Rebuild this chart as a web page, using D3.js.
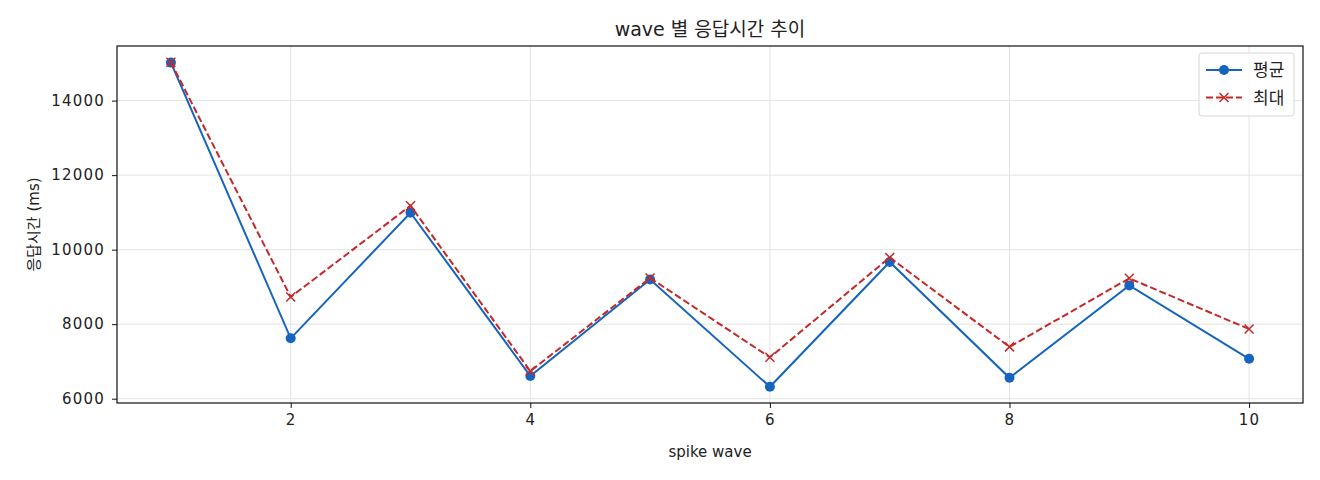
<!DOCTYPE html>
<html>
<head>
<meta charset="utf-8">
<script src="https://cdn.jsdelivr.net/npm/d3@7"></script>
<style>
  body { margin: 0; background: #fff; }
  text { font-family: "DejaVu Sans", "Noto Sans CJK KR", sans-serif; fill: #222; }
</style>
</head>
<body>
<div id="chart"></div>
<script>
// wave numbers and response times
var waves = [1, 2, 3, 4, 5, 6, 7, 8, 9, 10];
var avgMs = [15020, 7620, 10990, 6610, 9200, 6320, 9670, 6560, 9040, 7070];
var maxMs = [15030, 8730, 11180, 6740, 9240, 7110, 9790, 7390, 9230, 7870];
var xTicks = [2, 4, 6, 8, 10];
var yTicks = [6000, 8000, 10000, 12000, 14000];
var seriesNames = ["평균", "최대"];

var svgWidth = 1320, svgHeight = 480;
var margin = { top: 46, right: 17, bottom: 77, left: 117 };
var chartWidth = svgWidth - margin.left - margin.right;
var chartHeight = svgHeight - margin.top - margin.bottom;

var blue = "#1565c0", red = "#c62828";

var svg = d3.select("#chart").append("svg")
  .attr("width", svgWidth)
  .attr("height", svgHeight);

var chartGroup = svg.append("g")
  .attr("transform", `translate(${margin.left}, ${margin.top})`);

// matplotlib style 5% padding on both axes
var xPad = (d3.max(waves) - d3.min(waves)) * 0.05;
var xScale = d3.scaleLinear()
  .domain([d3.min(waves) - xPad, d3.max(waves) + xPad])
  .range([0, chartWidth]);

var yMin = d3.min(avgMs.concat(maxMs)), yMax = d3.max(avgMs.concat(maxMs));
var yPad = (yMax - yMin) * 0.05;
var yScale = d3.scaleLinear()
  .domain([yMin - yPad, yMax + yPad])
  .range([chartHeight, 0]);

// grid lines
chartGroup.append("g")
  .selectAll("line")
  .data(xTicks)
  .enter()
  .append("line")
  .attr("x1", d => xScale(d)).attr("x2", d => xScale(d))
  .attr("y1", 0).attr("y2", chartHeight)
  .attr("stroke", "#e3e3e3").attr("stroke-width", 1);
chartGroup.append("g")
  .selectAll("line")
  .data(yTicks)
  .enter()
  .append("line")
  .attr("x1", 0).attr("x2", chartWidth)
  .attr("y1", d => yScale(d)).attr("y2", d => yScale(d))
  .attr("stroke", "#e3e3e3").attr("stroke-width", 1);

// axes
var xAxis = d3.axisBottom(xScale).tickValues(xTicks).tickSize(5).tickPadding(6).tickFormat(d3.format("d"));
var yAxis = d3.axisLeft(yScale).tickValues(yTicks).tickSize(5).tickPadding(7).tickFormat(d3.format("d"));

var gx = chartGroup.append("g")
  .attr("transform", `translate(0,${chartHeight})`)
  .call(xAxis);
var gy = chartGroup.append("g")
  .call(yAxis);

[gx, gy].forEach(function (g) {
  g.select(".domain").remove();
  g.selectAll(".tick line").attr("stroke", "#111").attr("stroke-width", 1);
  g.selectAll(".tick text").style("font-size", "15px").style("fill", "#222").style("letter-spacing", "1.2px");
});

// lines
var avgData = waves.map((w, i) => ({ x: w, y: avgMs[i] }));
var maxData = waves.map((w, i) => ({ x: w, y: maxMs[i] }));

var line = d3.line().x(d => xScale(d.x)).y(d => yScale(d.y));

chartGroup.append("path")
  .datum(avgData)
  .attr("d", line)
  .attr("fill", "none")
  .attr("stroke", blue)
  .attr("stroke-width", 2);

chartGroup.selectAll(".avgDot")
  .data(avgData)
  .enter()
  .append("circle")
  .attr("cx", d => xScale(d.x))
  .attr("cy", d => yScale(d.y))
  .attr("r", 5)
  .attr("fill", blue);

chartGroup.append("path")
  .datum(maxData)
  .attr("d", line)
  .attr("fill", "none")
  .attr("stroke", red)
  .attr("stroke-width", 2)
  .attr("stroke-dasharray", "7,3");

var xMark = "M-4.5,-4.5L4.5,4.5M-4.5,4.5L4.5,-4.5";
chartGroup.selectAll(".maxMark")
  .data(maxData)
  .enter()
  .append("path")
  .attr("transform", d => `translate(${xScale(d.x)},${yScale(d.y)})`)
  .attr("d", xMark)
  .attr("stroke", red)
  .attr("stroke-width", 1.5)
  .attr("fill", "none");

// frame
chartGroup.append("rect")
  .attr("width", chartWidth).attr("height", chartHeight)
  .attr("fill", "none").attr("stroke", "#111").attr("stroke-width", 1.2);

// title and axis labels
svg.append("text")
  .attr("x", margin.left + chartWidth / 2)
  .attr("y", 36)
  .attr("text-anchor", "middle")
  .style("font-size", "19px")
  .text("wave 별 응답시간 추이");

svg.append("text")
  .attr("x", margin.left + chartWidth / 2)
  .attr("y", 457)
  .attr("text-anchor", "middle")
  .style("font-size", "15px")
  .text("spike wave");

svg.append("text")
  .attr("transform", `translate(39, ${margin.top + chartHeight / 2}) rotate(-90)`)
  .attr("text-anchor", "middle")
  .style("font-size", "15px")
  .text("응답시간 (ms)");

// legend
var legend = svg.append("g").attr("transform", "translate(1199, 53)");
legend.append("rect")
  .attr("width", 95).attr("height", 63).attr("rx", 3)
  .attr("fill", "#fff").attr("fill-opacity", 0.8)
  .attr("stroke", "#d6d6d6");

var rows = [
  { name: seriesNames[0], color: blue, dash: null, marker: "circle" },
  { name: seriesNames[1], color: red, dash: "7,3", marker: "x" }
];
rows.forEach(function (r, i) {
  var yy = 17 + i * 27.5;
  legend.append("line")
    .attr("x1", 7).attr("x2", 43)
    .attr("y1", yy).attr("y2", yy)
    .attr("stroke", r.color).attr("stroke-width", 2)
    .attr("stroke-dasharray", r.dash);
  if (r.marker === "circle") {
    legend.append("circle").attr("cx", 25).attr("cy", yy).attr("r", 5).attr("fill", r.color);
  } else {
    legend.append("path")
      .attr("transform", `translate(25,${yy})`)
      .attr("d", xMark)
      .attr("stroke", r.color).attr("stroke-width", 1.5);
  }
  legend.append("text")
    .attr("x", 54).attr("y", yy + 6)
    .style("font-size", "17px")
    .text(r.name);
});
</script>
</body>
</html>
